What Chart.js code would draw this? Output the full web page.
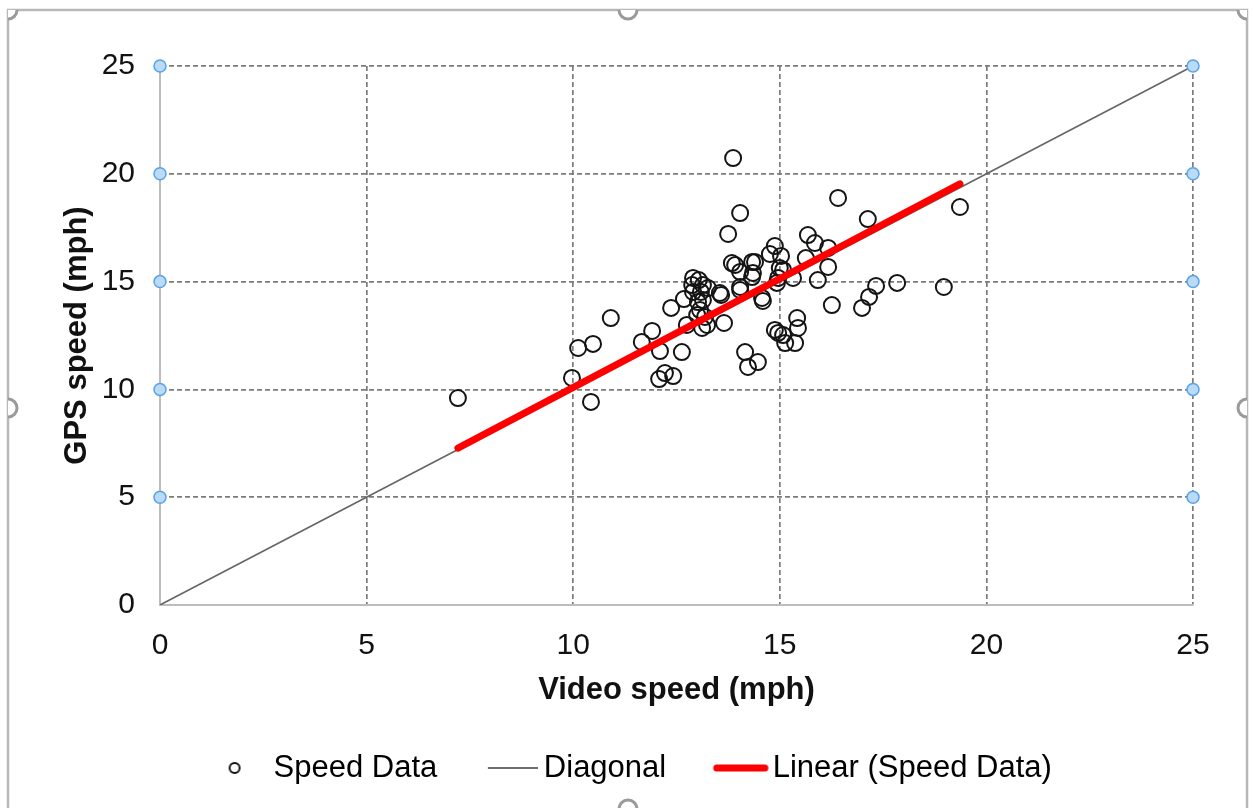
<!DOCTYPE html>
<html>
<head>
<meta charset="utf-8">
<script src="https://cdn.jsdelivr.net/npm/chart.js@4"></script>
<style>
  html, body { margin: 0; padding: 0; background: #fff; }
  #wrap { width: 1253px; height: 808px; }
</style>
</head>
<body>
<div id="wrap"><canvas id="chart" width="1253" height="808"></canvas></div>
<script>
// Video vs GPS speed readings (mph)
const videoSpeed = [
  7.21, 9.97, 10.43, 10.12, 10.48, 10.91, 11.66, 11.91, 12.10, 12.08,
  12.22, 12.42, 12.63, 12.37, 12.68, 12.75, 12.90, 12.88, 13.04, 13.14,
  13.26, 12.90, 13.09, 13.02, 13.14, 13.07, 13.00, 13.19, 13.12, 13.24,
  13.58, 13.65, 13.87, 13.75, 13.84, 13.92, 14.04, 14.04, 14.04, 14.04,
  14.33, 14.40, 14.35, 14.33, 14.57, 14.59, 14.76, 14.88, 15.03, 15.08,
  14.96, 14.93, 15.32, 15.68, 15.85, 15.63, 15.92, 14.88, 14.96, 15.08,
  15.13, 15.42, 15.44, 15.37, 14.16, 14.23, 14.47, 16.41, 17.13, 19.36,
  16.17, 16.17, 16.26, 16.99, 17.16, 17.33, 17.84, 18.97, 13.55, 15.00
];
const gpsSpeed = [
  9.60, 10.53, 9.42, 11.92, 12.11, 13.31, 12.20, 12.71, 11.78, 10.48,
  10.76, 10.62, 11.73, 13.78, 14.19, 12.99, 15.17, 14.84, 15.07, 14.84,
  14.70, 14.52, 14.52, 14.05, 14.15, 13.68, 13.45, 13.36, 12.85, 12.99,
  14.38, 13.08, 20.73, 17.21, 15.86, 15.77, 15.45, 14.75, 14.61, 18.18,
  15.91, 15.91, 15.40, 15.21, 14.24, 14.10, 16.28, 16.65, 16.19, 15.54,
  15.17, 14.94, 15.17, 17.16, 16.79, 16.09, 15.07, 12.76, 12.62, 12.52,
  12.15, 13.31, 12.85, 12.15, 11.73, 11.04, 11.27, 18.88, 17.90, 18.46,
  16.56, 15.68, 13.91, 13.78, 14.29, 14.80, 14.94, 14.75, 14.47, 15.63
];

// diagonal y = x and the linear trend endpoints
const diagonalX = [0, 25];
const diagonalY = [0, 25];
const trendX = [7.21, 19.36];
const trendY = [7.28, 19.53];

const xTicks = [0, 5, 10, 15, 20, 25];
const yTicks = [0, 5, 10, 15, 20, 25];

// gridline selection handles on both side edges
const handleX = [0, 25];
const handleY = [5, 10, 15, 20, 25];

const legendNames = ["Speed Data", "Diagonal", "Linear (Speed Data)"];

const FONT = "'Liberation Sans', Arial, sans-serif";

const toPoints = (xs, ys) => xs.map((x, i) => ({ x: x, y: ys[i] }));

const handlePoints = [];
handleX.forEach((x) => handleY.forEach((y) => handlePoints.push({ x: x, y: y })));

/**
 * Small canvas used as the legend symbol, drawn centred on the legend box
 */
const makeSymbol = (kind) => {
  const c = document.createElement("canvas");
  const g = c.getContext("2d");
  if (kind === "circle") {
    c.width = 38; c.height = 16;
    g.lineWidth = 2;
    g.strokeStyle = "#111";
    g.beginPath();
    g.arc(31, 8, 5, 0, Math.PI * 2);
    g.stroke();
  } else if (kind === "thin") {
    c.width = 90; c.height = 6;
    g.lineWidth = 2;
    g.strokeStyle = "#6e6e6e";
    g.beginPath();
    g.moveTo(40, 3); g.lineTo(90, 3);
    g.stroke();
  } else {
    c.width = 94; c.height = 12;
    g.lineWidth = 7;
    g.lineCap = "round";
    g.strokeStyle = "#ff0000";
    g.beginPath();
    g.moveTo(42, 6); g.lineTo(90, 6);
    g.stroke();
  }
  return c;
};

const legendSymbols = [makeSymbol("circle"), makeSymbol("thin"), makeSymbol("thick")];

// outer frame with resize handles
const framePlugin = {
  id: "frame",
  afterDraw(chart) {
    const ctx = chart.ctx;
    const L = 8, T = 10, R = 1247, B = 812, r = 9;
    ctx.save();
    ctx.strokeStyle = "#b8b8b8";
    ctx.lineWidth = 2.5;
    ctx.strokeRect(L, T, R - L, B - T);
    ctx.strokeStyle = "#9a9a9a";
    ctx.lineWidth = 3;
    const arc = (x, y, a0, a1) => {
      ctx.beginPath();
      ctx.fillStyle = "#fff";
      ctx.moveTo(x, y);
      ctx.arc(x, y, r, a0, a1);
      ctx.closePath();
      ctx.fill();
      ctx.beginPath();
      ctx.arc(x, y, r, a0, a1);
      ctx.stroke();
    };
    arc(628, T, 0, Math.PI);
    arc(628, 809, Math.PI, Math.PI * 2);
    arc(L, 408, -Math.PI / 2, Math.PI / 2);
    arc(R, 408, Math.PI / 2, Math.PI * 1.5);
    arc(L, T, 0, Math.PI / 2);
    arc(R, T, Math.PI / 2, Math.PI);
    ctx.restore();
  },
};

const gridColor = (ctx) => (ctx.tick && ctx.tick.value === 0 ? "rgba(0,0,0,0)" : "#7c7c7c");

new Chart(document.getElementById("chart"), {
  type: "scatter",
  data: {
    datasets: [
      {
        label: "handles",
        data: handlePoints,
        pointRadius: 6,
        pointBackgroundColor: "#b9dbf7",
        pointBorderColor: "#5aa2e6",
        pointBorderWidth: 1.5,
        clip: false,
        order: -1,
      },
      {
        label: legendNames[0],
        data: toPoints(videoSpeed, gpsSpeed),
        pointRadius: 8,
        pointBackgroundColor: "rgba(0,0,0,0)",
        pointBorderColor: "#141414",
        pointBorderWidth: 2,
        order: 1,
      },
      {
        label: legendNames[1],
        type: "line",
        data: toPoints(diagonalX, diagonalY),
        borderColor: "#666666",
        borderWidth: 1.6,
        pointRadius: 0,
        order: 2,
      },
      {
        label: legendNames[2],
        type: "line",
        data: toPoints(trendX, trendY),
        borderColor: "#ff0000",
        borderWidth: 7,
        borderCapStyle: "round",
        pointRadius: 0,
        order: 0,
      },
    ],
  },
  options: {
    responsive: false,
    animation: false,
    layout: { padding: { left: 46, right: 60, top: 66, bottom: 14.5 } },
    scales: {
      x: {
        type: "linear",
        min: 0,
        max: 25,
        afterBuildTicks: (scale) => { scale.ticks = xTicks.map((v) => ({ value: v })); },
        afterFit: (scale) => { scale.height = 127.5; },
        grid: { color: gridColor, lineWidth: 1.7, drawTicks: false },
        border: { display: true, color: "#bdbdbd", width: 2, dash: [5, 3] },
        ticks: { color: "#111", padding: 23, font: { family: FONT, size: 30 } },
        title: {
          display: true,
          text: "Video speed (mph)",
          color: "#111",
          padding: { top: 0, bottom: 23 },
          font: { family: FONT, size: 31, weight: "bold" },
        },
      },
      y: {
        type: "linear",
        min: 0,
        max: 25,
        afterBuildTicks: (scale) => { scale.ticks = yTicks.map((v) => ({ value: v })); },
        afterFit: (scale) => { scale.width = 114; },
        grid: { color: gridColor, lineWidth: 1.7, drawTicks: false },
        border: { display: true, color: "#bdbdbd", width: 2, dash: [5, 3] },
        ticks: { color: "#111", padding: 25, font: { family: FONT, size: 30 } },
        title: {
          display: true,
          text: "GPS speed (mph)",
          color: "#111",
          padding: { top: 13, bottom: 0 },
          font: { family: FONT, size: 31, weight: "bold" },
        },
      },
    },
    plugins: {
      tooltip: { enabled: false },
      legend: {
        position: "bottom",
        labels: {
          usePointStyle: true,
          pointStyleWidth: 71,
          padding: 20,
          color: "#111",
          font: { family: FONT, size: 31 },
          generateLabels: () =>
            legendNames.map((name, i) => ({
              text: name,
              pointStyle: legendSymbols[i],
              fillStyle: "rgba(0,0,0,0)",
              strokeStyle: "rgba(0,0,0,0)",
              lineWidth: 0,
              hidden: false,
              datasetIndex: i + 1,
            })),
        },
      },
    },
  },
  plugins: [framePlugin],
});
</script>
</body>
</html>
